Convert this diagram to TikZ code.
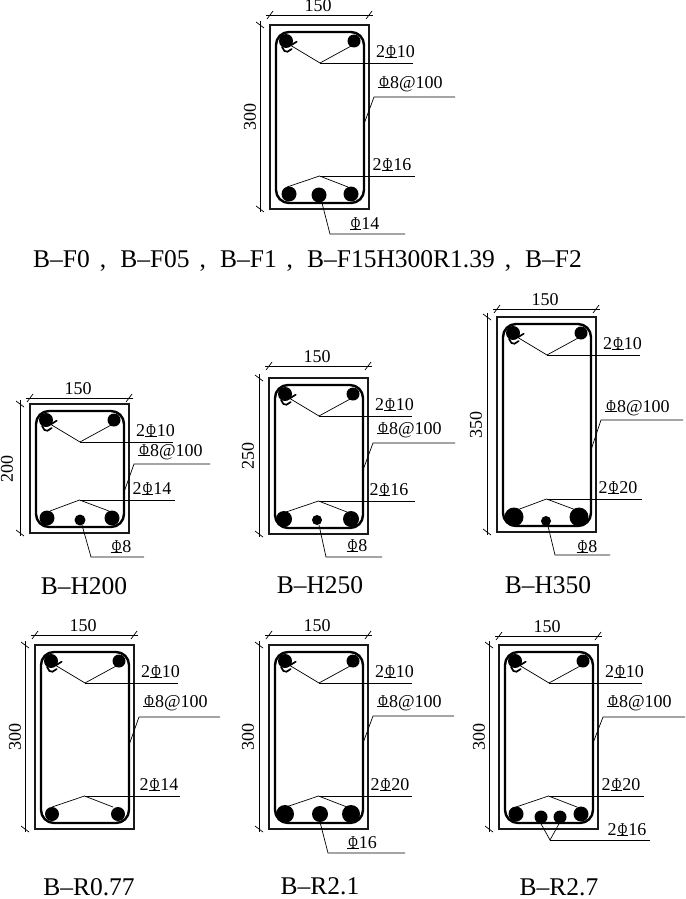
\documentclass[tikz,border=0pt]{standalone}
\usepackage{fontspec}
\setmainfont{Liberation Serif}
\newcommand\stl{\leavevmode\rlap{\rule{0.66em}{0.06em}}\makebox[0.66em][c]{\scalebox{.72}[1]{Φ}}}
\newcommand\cmm{\hspace{10pt},\hspace{14pt}}
\tikzset{
 thinl/.style={line width=0.7pt,black},
 outer/.style={line width=1.2pt,black!90},
 hoop/.style={line width=2.4pt,rounded corners=13pt},
 lab/.style={inner sep=0pt,font=\fontsize{18}{18}\selectfont},
 captext/.style={inner sep=0pt,font=\fontsize{25.5}{25.5}\selectfont}
}
% H, side label, dim line y, side text x, bottom bar radius, left x, right x
\newcommand\BeamBase[7]{%
 \draw[outer] (0,0) rectangle (99,#1);
 \draw[hoop] (6,7) rectangle (94,#1-6);
 \draw[thinl] (-4,#3) -- (103,#3);
 \draw[thinl] (-3,#3+4) -- (3,#3-4);
 \draw[thinl] (96,#3+4) -- (102,#3-4);
 \draw[thinl] (-10,-4) -- (-10,#1+3);
 \draw[thinl] (-14,-3) -- (-6,3);
 \draw[thinl] (-14,#1-3) -- (-6,#1+3);
 \node[lab] at (48,#3-9) {150};
 \node[lab,rotate=90] at (#4,#1/2) {#2};
 \fill (16,16) circle (7);
 \fill (84,16) circle (6.5);
 \draw[line width=1.7pt,line cap=round] (26.7,16.7) -- (20.5,20.5);
 \draw[line width=1.7pt,line cap=round] (21.7,24) -- (17.5,26.7) -- (14.5,26) -- (12,22);
 \fill (#6,#1-15) circle (#5);
 \fill (#7,#1-15) circle (#5);
 \draw[thinl] (20,20) -- (50,38) -- (83,20);
 \draw[thinl] (50,38) -- (143,38);
 \node[lab] at (125.5,27) {2\stl10};
}
% H, stirrup foot y, leader y, leader end x, text y
\newcommand\Hoopl[5]{%
 \draw[thinl] (94,#2) -- (104,#3) -- (#4,#3);
 \node[lab] at (140.5,#5) {\stl8@100};
}
% H, label, end x, label x, left x, right x
\newcommand\Botl[6]{%
 \draw[thinl] (#5,#1-22) -- (49.5,#1-33) -- (#6,#1-22);
 \draw[thinl] (49.5,#1-33) -- (#3,#1-33);
 \node[lab] at (#4,#1-44) {2\stl#2};
}
\begin{document}
\begin{tikzpicture}[x=1pt,y=-1pt]
\useasboundingbox (0,0) rectangle (685,899);
\fill[white] (0,0) rectangle (685,899);

% Top section
\begin{scope}[shift={(270,25)}]
 \BeamBase{184}{300}{-10}{-20}{7.5}{19}{81}
 \Hoopl{184}{99}{72}{185}{59}
 \Botl{184}{16}{145}{122}{17}{78}
 \fill (49,170) circle (7.5);
 \draw[thinl] (52,178) -- (60,209) -- (135,209);
 \node[lab] at (94.5,199) {\stl14};
\end{scope}
\node[captext,anchor=west] at (33,261) {B–F0\cmm B–F05\cmm B–F1\cmm B–F15H300R1.39\cmm B–F2};

% B-H200
\begin{scope}[shift={(30,404)}]
 \BeamBase{129}{200}{-6}{-23}{7.5}{17}{82}
 \Hoopl{129}{88}{60}{180}{48}
 \Botl{129}{14}{145}{122}{20}{79}
 \fill (50,116) circle (5.5);
 \draw[thinl] (52,121) -- (61,153) -- (114,153);
 \node[lab] at (91,143) {\stl8};
\end{scope}
\node[captext] at (84,586) {B–H200};

% B-H250
\begin{scope}[shift={(269,378)}]
 \BeamBase{156}{250}{-12}{-21}{8}{15}{82}
 \Hoopl{156}{92}{65}{186}{52}
 \Botl{156}{16}{146}{120}{17}{78}
 \fill (48,142) circle (5);
 \draw[thinl] (50,147) -- (57,179) -- (113,179);
 \node[lab] at (88,168) {\stl8};
\end{scope}
\node[captext] at (320,585) {B–H250};

% B-H350
\begin{scope}[shift={(497,317)}]
 \BeamBase{215}{350}{-8}{-21}{9.5}{17}{82}
 \Hoopl{215}{133}{103}{186}{91}
 \Botl{215}{20}{145}{121}{20}{79}
 \fill (49,204) circle (5);
 \draw[thinl] (51,209) -- (58,238) -- (113,238);
 \node[lab] at (90,230) {\stl8};
\end{scope}
\node[captext] at (548,585) {B–H350};

% B-R0.77
\begin{scope}[shift={(35,645)}]
 \BeamBase{184}{300}{-10}{-20}{7}{17}{83}
 \Hoopl{184}{100}{72}{185}{58}
 \Botl{184}{14}{145}{124}{17}{78}
\end{scope}
\node[captext] at (89,887) {B–R0.77};

% B-R2.1
\begin{scope}[shift={(269,645)}]
 \BeamBase{184}{300}{-10}{-21}{9}{16}{82}
 \Hoopl{184}{98}{71}{185}{58}
 \Botl{184}{20}{143}{121}{17}{78}
 \fill (51,169) circle (8);
 \draw[thinl] (51,177) -- (59,208) -- (136,208);
 \node[lab] at (93,198) {\stl16};
\end{scope}
\node[captext] at (320,886) {B–R2.1};

% B-R2.7
\begin{scope}[shift={(499,645)}]
 \BeamBase{184}{300}{-9}{-20}{7.5}{17}{82}
 \Hoopl{184}{98}{72}{186}{58}
 \Botl{184}{20}{145}{122}{17}{78}
 \fill (42,172) circle (6.5);
 \fill (61,172) circle (6.5);
 \draw[thinl] (41,177) -- (51,195) -- (61,177);
 \draw[thinl] (51,195) -- (151,195);
 \node[lab] at (128,185) {2\stl16};
\end{scope}
\node[captext] at (559,887) {B–R2.7};
\end{tikzpicture}
\end{document}
